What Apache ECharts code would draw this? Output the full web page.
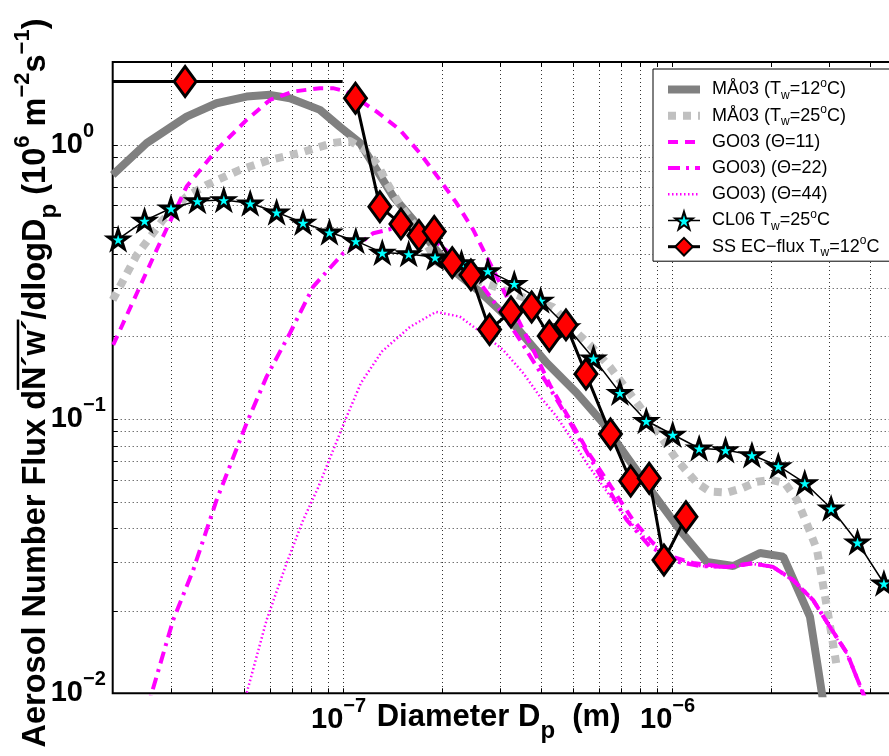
<!DOCTYPE html>
<html><head><meta charset="utf-8">
<script src="https://cdn.jsdelivr.net/npm/echarts@6/dist/echarts.min.js"></script>
<style>html,body{margin:0;padding:0;background:#fff}#c{width:889px;height:756px}</style>
</head><body><div id="c"></div>
<script>
// ---------------- data (diameter in m, flux in 10^6 m^-2 s^-1) ----------------
const SERIES_NAMES = ['MÅ03 (Tw=12oC)', 'MÅ03 (Tw=25oC)', 'GO03 (Θ=11)', 'GO03) (Θ=22)', 'GO03) (Θ=44)', 'CL06 Tw=25oC', 'SS EC−flux Tw=12oC'];
const LEGEND_TEXT = [
  '{n|MÅ03 (T}{sub|w}{n|=12}{sup|o}{n|C)}',
  '{n|MÅ03 (T}{sub|w}{n|=25}{sup|o}{n|C)}',
  '{n|GO03 (Θ=11)}',
  '{n|GO03) (Θ=22)}',
  '{n|GO03) (Θ=44)}',
  '{n|CL06 T}{sub|w}{n|=25}{sup|o}{n|C}',
  '{n|SS EC−flux T}{sub|w}{n|=12}{sup|o}{n|C}'
];
const X_NAME = '{n|Diameter D}{sub|p}{n|  (m)}';
const Y_NAME = ['Aerosol Number Flux d', 'N´w´', '/dlogD', 'p', ' (10', '6', ' m', '−2', 's', '−1', ')'];

const X_MIN = 2e-8, X_MAX = 5e-6, Y_MIN = 0.01, Y_MAX = 2;
const X_GRID = [3e-8,4e-8,5e-8,6e-8,7e-8,8e-8,9e-8,1e-7,2e-7,3e-7,4e-7,5e-7,6e-7,7e-7,8e-7,9e-7,1e-6,2e-6,3e-6,4e-6];
const Y_GRID = [0.02,0.03,0.04,0.05,0.06,0.07,0.08,0.09,0.1,0.2,0.3,0.4,0.5,0.6,0.7,0.8,0.9,1];

const MA12_D = [2.0e-8,2.536e-8,3.355e-8,4.139e-8,5.106e-8,6.012e-8,6.914e-8,8.531e-8,9.813e-8,1.129e-7,1.269e-7,1.425e-7,1.639e-7,1.886e-7,2.221e-7,2.616e-7,3.226e-7,4.172e-7,5.146e-7,6.185e-7,7.303e-7,8.801e-7,1.060e-6,1.279e-6,1.540e-6,1.857e-6,2.185e-6,2.634e-6,2.886e-6];
const MA12_F = [0.7755,1.012,1.265,1.415,1.496,1.518,1.476,1.338,1.160,1.014,0.8087,0.6462,0.5315,0.4247,0.3398,0.2904,0.2296,0.16,0.1244,0.0967,0.07288,0.05329,0.03938,0.03011,0.02911,0.03247,0.03148,0.01902,0.00945];

const MA25_D = [2.0e-8,2.368e-8,2.842e-8,3.355e-8,3.859e-8,4.872e-8,6.012e-8,7.416e-8,9.344e-8,1.052e-7,1.169e-7,1.280e-7,1.364e-7,1.494e-7,1.718e-7,1.935e-7,2.273e-7,2.864e-7,3.583e-7,4.358e-7,5.157e-7,5.647e-7,6.497e-7,8.015e-7,9.026e-7,1.038e-6,1.194e-6,1.309e-6,1.474e-6,1.637e-6,1.818e-6,2.020e-6,2.212e-6,2.406e-6,2.598e-6,2.768e-6,2.988e-6,3.185e-6];
const MA25_F = [0.2716,0.3962,0.5315,0.6462,0.7130,0.8087,0.8793,0.9327,1.014,1.032,0.9565,0.8432,0.7251,0.6030,0.4766,0.3736,0.3349,0.3053,0.2761,0.2560,0.2058,0.1861,0.1547,0.1106,0.0904,0.07088,0.05843,0.05433,0.05387,0.05590,0.05907,0.05992,0.05828,0.05066,0.04050,0.03330,0.01957,0.01234];

const GO11_D = [2.007e-8,2.72e-8,3.355e-8,4.139e-8,5.106e-8,6.012e-8,7.08e-8,8.531e-8,9.344e-8,1.029e-7,1.269e-7,1.494e-7,1.718e-7,1.976e-7,2.221e-7,2.495e-7,2.741e-7,2.939e-7,3.381e-7,3.798e-7,4.268e-7,4.911e-7,5.647e-7,6.497e-7,7.631e-7,8.779e-7,1.010e-6,1.162e-6,1.474e-6,1.768e-6,2.034e-6,2.339e-6,2.691e-6,3.031e-6,3.414e-6,3.819e-6,4.011e-6];
const GO11_F = [0.1861,0.4131,0.7029,0.9565,1.230,1.455,1.561,1.606,1.606,1.561,1.319,1.131,0.9303,0.7435,0.6115,0.4887,0.3906,0.3302,0.236,0.1784,0.1330,0.0992,0.07389,0.05745,0.04283,0.03531,0.03140,0.02985,0.02886,0.02978,0.02886,0.02588,0.02188,0.01745,0.01402,0.0100,0.00869];

const GO22_D = [2.505e-8,2.627e-8,3.054e-8,3.514e-8,4.139e-8,5.106e-8,5.874e-8,6.914e-8,8.14e-8,1.004e-7,1.129e-7,1.239e-7,1.393e-7,1.547e-7,1.718e-7,1.976e-7,2.273e-7,2.616e-7,3.008e-7,3.46e-7,3.981e-7,4.578e-7,5.266e-7,6.057e-7,7.303e-7,8.597e-7,1.036e-6,1.22e-6,1.474e-6,1.768e-6,2.034e-6,2.339e-6,2.691e-6,3.031e-6,3.414e-6,3.819e-6,4.011e-6];
const GO22_F = [0.008334,0.01,0.0185,0.02814,0.05066,0.09645,0.1426,0.2053,0.3036,0.4018,0.4370,0.4753,0.4915,0.5053,0.4887,0.4309,0.3736,0.3131,0.2496,0.1941,0.1484,0.1125,0.08384,0.06248,0.04283,0.03424,0.03019,0.02911,0.0289,0.0298,0.0289,0.0259,0.0219,0.01745,0.0140,0.0100,0.0087];

const GO44_D = [4.908e-8,5.106e-8,5.874e-8,6.757e-8,7.59e-8,8.412e-8,1.029e-7,1.137e-7,1.317e-7,1.602e-7,1.921e-7,2.273e-7,2.616e-7,3.078e-7,3.541e-7,3.981e-7,4.474e-7,4.911e-7,5.52e-7,6.199e-7,6.968e-7,8.015e-7,9.219e-7,1.060e-6,1.22e-6,1.474e-6,1.768e-6,2.034e-6,2.339e-6,2.691e-6,3.031e-6,3.414e-6,3.819e-6,4.011e-6];
const GO44_F = [0.007992,0.01,0.0185,0.02985,0.04283,0.05604,0.1020,0.1353,0.1762,0.2165,0.2455,0.236,0.2081,0.1784,0.1468,0.1206,0.1020,0.0862,0.06894,0.05666,0.04659,0.03831,0.0333,0.03062,0.02911,0.0287,0.0296,0.0287,0.0257,0.0217,0.0173,0.0139,0.0099,0.0086];

const CL06_D = [2.078e-8,2.500e-8,3.008e-8,3.619e-8,4.353e-8,5.237e-8,6.300e-8,7.579e-8,9.118e-8,1.097e-7,1.320e-7,1.588e-7,1.910e-7,2.298e-7,2.764e-7,3.325e-7,4.000e-7,4.812e-7,5.789e-7,6.965e-7,8.378e-7,1.008e-6,1.213e-6,1.459e-6,1.755e-6,2.111e-6,2.540e-6,3.055e-6,3.675e-6,4.421e-6,5.32e-6];
const CL06_F = [0.4519,0.5284,0.5862,0.6232,0.6286,0.6115,0.5670,0.5195,0.4794,0.4455,0.4039,0.3995,0.3886,0.3704,0.3463,0.3113,0.2704,0.2165,0.1665,0.1247,0.09849,0.08779,0.07818,0.07709,0.07389,0.06741,0.05843,0.04724,0.03553,0.02518,0.0170];

const SS_D = [1.094e-7,1.298e-7,1.504e-7,1.706e-7,1.899e-7,2.154e-7,2.455e-7,2.797e-7,3.25e-7,3.755e-7,4.249e-7,4.775e-7,5.492e-7,6.52e-7,7.51e-7,8.55e-7,9.48e-7,1.106e-6];
const SS_F = [1.476,0.594,0.514,0.466,0.482,0.3713,0.335,0.2118,0.2455,0.256,0.2007,0.2202,0.1459,0.0882,0.0594,0.0608,0.0306,0.044];
const SS_BIN_EDGES = [2e-8, 1e-7];
const SS_BIN_CENTER = 3.32e-8;
const SS_BIN_VALUE = 1.697;

// ---------------- styles ----------------
const FONT = 'Liberation Sans';
const STAR = 'path://M50,0 L61.2,34.5 L97.6,34.5 L68.2,55.9 L79.4,90.5 L50,69.1 L20.6,90.5 L31.8,55.9 L2.4,34.5 L38.8,34.5 Z';
const LINE_STYLES = [
  {color: '#808080', width: 8},
  {color: '#c0c0c0', width: 8, type: [8, 7]},
  {color: '#ff00ff', width: 4, type: [10, 7]},
  {color: '#ff00ff', width: 4, type: [12, 6, 3, 6]},
  {color: '#ff00ff', width: 2.5, type: [1.5, 2.5]},
  {color: '#000000', width: 1.5},
  {color: '#000000', width: 3}
];
const HAS_MARKER = [false, false, false, false, false, true, true];
const pairs = (xs, ys) => xs.map((x, i) => [x, ys[i]]);

function powLabel(v) {
  const l = Math.log10(v), e = Math.round(l);
  if (Math.abs(l - e) > 1e-6) return '';
  return '{b|10}{sup|' + (e < 0 ? '\u2212' + (-e) : String(e)) + '}';
}
const tickRich = {
  b: {fontFamily: FONT, fontSize: 29, fontWeight: 'bold', color: '#000', lineHeight: 30},
  sup: {fontFamily: FONT, fontSize: 20, fontWeight: 'bold', color: '#000', lineHeight: 20, padding: [0, 0, 27, 0]}
};

function vGrid(params, api) {
  const cs = params.coordSys;
  const x = Math.round(api.coord([api.value(0), Y_MIN])[0]) + 0.5;
  const top = cs.y, bot = cs.y + cs.height;
  return {type: 'group', children: [
    {type: 'line', shape: {x1: x, y1: top, x2: x, y2: bot}, style: {stroke: '#333', lineWidth: 1, lineDash: [1, 3]}},
    {type: 'line', shape: {x1: x, y1: bot, x2: x, y2: bot - 5}, style: {stroke: '#000', lineWidth: 1}},
    {type: 'line', shape: {x1: x, y1: top, x2: x, y2: top + 5}, style: {stroke: '#000', lineWidth: 1}}
  ]};
}
function hGrid(params, api) {
  const cs = params.coordSys;
  const y = Math.round(api.coord([X_MIN, api.value(1)])[1]) + 0.5;
  const l = cs.x, r = cs.x + cs.width;
  return {type: 'group', children: [
    {type: 'line', shape: {x1: l, y1: y, x2: r, y2: y}, style: {stroke: '#333', lineWidth: 1, lineDash: [1, 3]}},
    {type: 'line', shape: {x1: l, y1: y, x2: l + 5, y2: y}, style: {stroke: '#000', lineWidth: 1}}
  ]};
}

// y-axis title (rotated) with overline over N'w'
const Y_FS = 32.5;
const yRich = {
  n: {fontFamily: FONT, fontSize: Y_FS, fontWeight: 'bold', color: '#000', lineHeight: 34},
  sub: {fontFamily: FONT, fontSize: 24, fontWeight: 'bold', color: '#000', lineHeight: 24, padding: [26, 0, 0, 0]},
  sup: {fontFamily: FONT, fontSize: 22, fontWeight: 'bold', color: '#000', lineHeight: 22, padding: [0, 0, 26, 0]}
};
const yStyles = ['n', 'n', 'n', 'sub', 'n', 'sup', 'n', 'sup', 'n', 'sup', 'n'];
const ctx = document.createElement('canvas').getContext('2d');
function w(txt, st) { const s = yRich[st]; ctx.font = 'bold ' + s.fontSize + 'px "' + FONT + '"'; return ctx.measureText(txt).width; }
let total = 0; const widths = Y_NAME.map((t, i) => { const ww = w(t, yStyles[i]); total += ww; return ww; });
const ovStart = -total / 2 + widths[0];
const ovEnd = ovStart + widths[1];
const yNameText = Y_NAME.map((t, i) => '{' + yStyles[i] + '|' + t + '}').join('');

const chart = echarts.init(document.getElementById('c'), null, {renderer: 'canvas', width: 889, height: 756});

const lineSeries = [
  [MA12_D, MA12_F], [MA25_D, MA25_F], [GO11_D, GO11_F], [GO22_D, GO22_F], [GO44_D, GO44_F]
].map((d, i) => ({
  type: 'line', name: SERIES_NAMES[i], data: pairs(d[0], d[1]), symbol: 'none', z: 3,
  lineStyle: LINE_STYLES[i], itemStyle: {color: LINE_STYLES[i].color}, emphasis: {disabled: true}
}));

const option = {
  animation: false,
  backgroundColor: '#fff',
  grid: {left: 112.7, top: 62, right: -12.5, bottom: 62.7, show: true, borderColor: '#000', borderWidth: 2,
         backgroundColor: 'rgba(0,0,0,0)', containLabel: false, outerBoundsMode: 'none'},
  xAxis: {
    type: 'log', logBase: 10, min: X_MIN, max: X_MAX,
    axisLine: {show: false}, axisTick: {show: false}, splitLine: {show: false},
    minorTick: {show: false}, minorSplitLine: {show: false},
    axisLabel: {formatter: powLabel, margin: 12, padding: [0, 8, 0, 0], rich: tickRich, showMinLabel: true, showMaxLabel: true, hideOverlap: false},
    name: X_NAME, nameLocation: 'middle', nameGap: 8, nameMoveOverlap: false,
    nameTextStyle: {verticalAlign: 'top', padding: [0, 17, 0, 0], rich: {
      n: {fontFamily: FONT, fontSize: 31, fontWeight: 'bold', color: '#000', lineHeight: 32},
      sub: {fontFamily: FONT, fontSize: 24, fontWeight: 'bold', color: '#000', lineHeight: 24, padding: [28, 0, 0, 0]}
    }}
  },
  yAxis: {
    type: 'log', logBase: 10, min: Y_MIN, max: Y_MAX,
    axisLine: {show: false}, axisTick: {show: false}, splitLine: {show: false},
    minorTick: {show: false}, minorSplitLine: {show: false},
    axisLabel: {formatter: powLabel, margin: 62, align: 'left', rich: tickRich, hideOverlap: false}
  },
  legend: {
    data: SERIES_NAMES.map((nm, i) => HAS_MARKER[i]
      ? {name: nm, lineStyle: LINE_STYLES[i]}
      : {name: nm, itemStyle: {opacity: 0}, lineStyle: LINE_STYLES[i]}),
    orient: 'vertical', left: 653, top: 69,
    padding: [8, 60, 2, 11], itemGap: 1.2, itemWidth: 32, itemHeight: 22,
    backgroundColor: '#fff', borderColor: '#000', borderWidth: 1, borderRadius: 0,
    selectedMode: false,
    formatter: name => LEGEND_TEXT[SERIES_NAMES.indexOf(name)],
    textStyle: {padding: [0, 0, 0, 7], height: 25, lineHeight: 25, verticalAlign: 'middle', rich: {
      n: {fontFamily: FONT, fontSize: 18, color: '#000', lineHeight: 25},
      sub: {fontFamily: FONT, fontSize: 12, color: '#000', lineHeight: 12, padding: [12, 0, 0, 0]},
      sup: {fontFamily: FONT, fontSize: 12, color: '#000', lineHeight: 12, padding: [0, 0, 12, 0]}
    }}
  },
  graphic: [{
    type: 'group', x: 36, y: 383, rotation: Math.PI / 2, silent: true,
    children: [
      {type: 'text', style: {text: yNameText, rich: yRich, align: 'center', verticalAlign: 'middle', fill: '#000',
        fontFamily: FONT, fontSize: Y_FS, fontWeight: 'bold'}},
      {type: 'line', shape: {x1: ovStart, y1: -18, x2: ovEnd, y2: -18}, style: {stroke: '#000', lineWidth: 2.5}}
    ]
  }],
  series: [
    {type: 'custom', name: 'xgrid', silent: true, z: 1, clip: false, renderItem: vGrid, data: X_GRID.map(v => [v, Y_MIN])},
    {type: 'custom', name: 'ygrid', silent: true, z: 1, clip: false, renderItem: hGrid, data: Y_GRID.map(v => [X_MIN, v])},
    ...lineSeries,
    {type: 'line', name: SERIES_NAMES[5], data: pairs(CL06_D, CL06_F), symbol: STAR, symbolSize: 20, symbolKeepAspect: true,
     showAllSymbol: true, z: 4,
     lineStyle: LINE_STYLES[5], itemStyle: {color: '#00ffff', borderColor: '#000', borderWidth: 3}, emphasis: {disabled: true}},
    {type: 'line', name: 'ssbin', z: 5, symbol: 'diamond', symbolSize: [22, 30], showAllSymbol: true,
     data: [{value: [SS_BIN_EDGES[0], SS_BIN_VALUE], symbol: 'none'}, {value: [SS_BIN_CENTER, SS_BIN_VALUE]}, {value: [SS_BIN_EDGES[1], SS_BIN_VALUE], symbol: 'none'}],
     lineStyle: LINE_STYLES[6], itemStyle: {color: '#ff0000', borderColor: '#000', borderWidth: 3}, emphasis: {disabled: true}},
    {type: 'line', name: SERIES_NAMES[6], data: pairs(SS_D, SS_F), symbol: 'diamond', symbolSize: [22, 30], showAllSymbol: true, z: 5,
     lineStyle: LINE_STYLES[6], itemStyle: {color: '#ff0000', borderColor: '#000', borderWidth: 3}, emphasis: {disabled: true}}
  ]
};
chart.setOption(option);
</script></body></html>
